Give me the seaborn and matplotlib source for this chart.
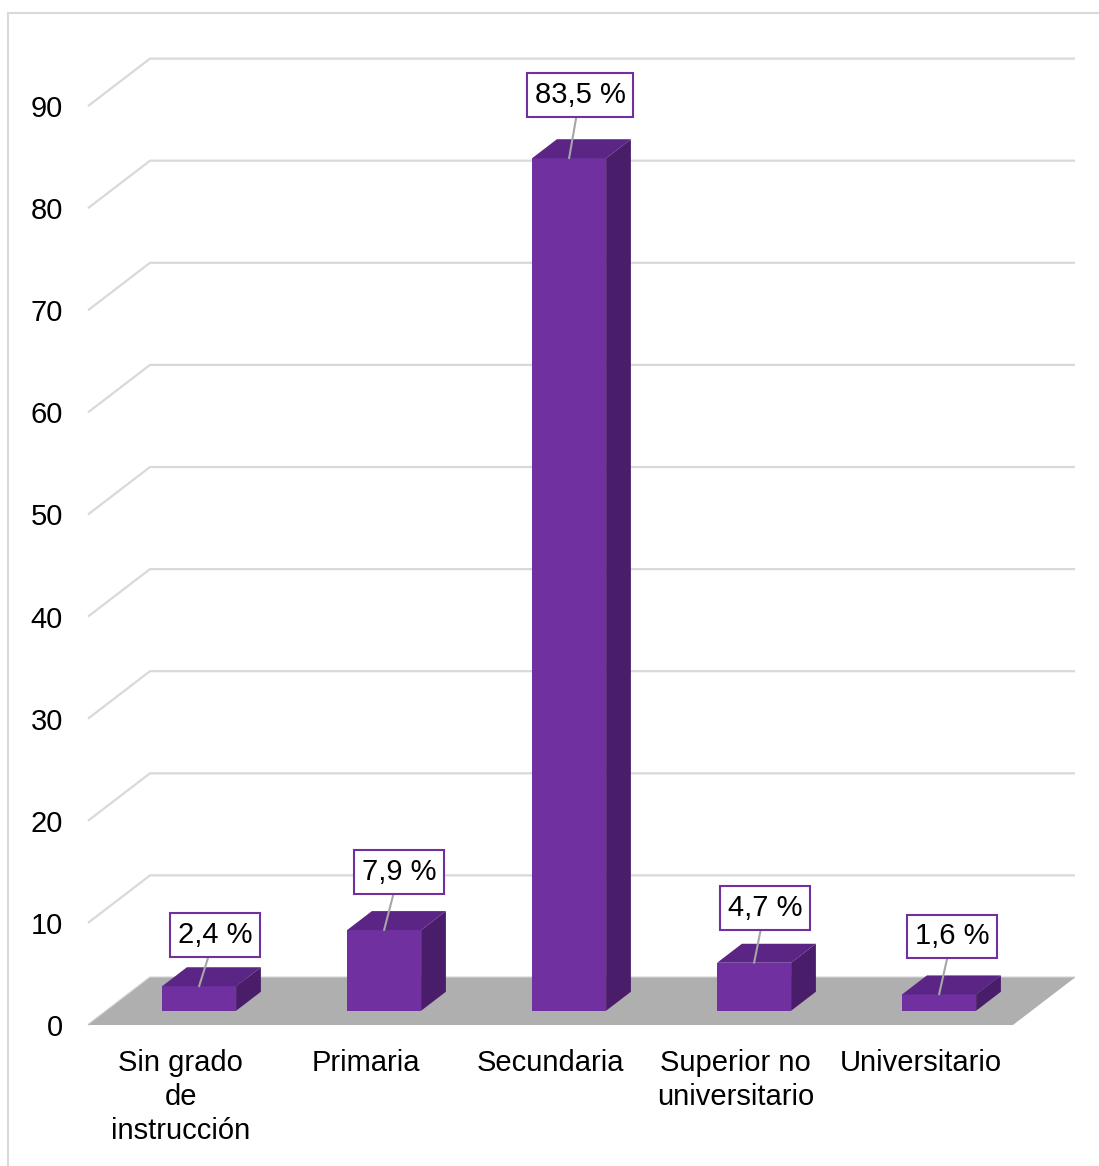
import matplotlib
matplotlib.use("Agg")
import matplotlib.pyplot as plt
import seaborn as sns
import pandas as pd
from matplotlib.patches import Polygon, Rectangle

# Nivel de instrucción (%)
categorias = ["Sin grado\nde\ninstrucción", "Primaria", "Secundaria",
              "Superior no\nuniversitario", "Universitario"]
porcentajes = [2.4, 7.9, 83.5, 4.7, 1.6]
etiquetas = ["2,4 %", "7,9 %", "83,5 %", "4,7 %", "1,6 %"]
ticks_y = [0, 10, 20, 30, 40, 50, 60, 70, 80, 90]

# desplazamiento (px) de cada caja de etiqueta respecto a la cara superior de la barra
desplaz_etiquetas = [(16, 51), (15, 58), (11, 63), (11, 55), (13, 58)]

sns.set_theme(style="white")
plt.rcParams["font.family"] = ["Liberation Sans", "DejaVu Sans"]

W, H = 1099, 1166
fig = plt.figure(figsize=(W / 100, H / 100), dpi=100)
fig.patch.set_facecolor("white")

# plano frontal de la gráfica en píxeles
left_px, right_px = 88, 1075
bottom_px, top_px = 1025, 45
ax = fig.add_axes([left_px / W, 1 - bottom_px / H,
                   (right_px - left_px) / W, (bottom_px - top_px) / H])

px_y = 10.21      # píxeles por unidad de porcentaje
px_x = 185        # píxeles por categoría
xmin = -0.5
xmax = xmin + (right_px - left_px) / px_x
ymax = (bottom_px - top_px) / px_y

# vector de profundidad (pared del fondo) en unidades de datos
DX = 62 / px_x
DY = 47.5 / px_y
f_front = 0.30    # posición de la cara frontal de las barras en la profundidad
f_depth = 0.40    # profundidad de las barras

frente = "#7030a0"
techo = "#5a2584"
lateral = "#4a1d6a"

df = pd.DataFrame({"categoria": categorias, "porcentaje": porcentajes})
sns.barplot(data=df, x="categoria", y="porcentaje", color=frente, width=0.4,
            saturation=1, edgecolor="none", linewidth=0, ax=ax, zorder=4)

barras = list(ax.patches)

# líneas de cuadrícula: diagonal en la pared izquierda y horizontal al fondo
for v in ticks_y:
    ax.plot([xmin, xmin + DX, xmax], [v, v + DY, v + DY],
            color="#d9d9d9", lw=1.6, zorder=1, clip_on=False,
            solid_capstyle="butt")

# piso
piso = Polygon([(xmin, 0), (4.5, 0), (4.5 + DX, DY), (xmin + DX, DY)],
               closed=True, facecolor="#afafaf", edgecolor="none", zorder=2)
ax.add_patch(piso)

# caras superior y lateral de cada barra
bdx, bdy = f_depth * DX, f_depth * DY
for p in barras:
    p.set_x(p.get_x() + f_front * DX)
    p.set_y(p.get_y() + f_front * DY)
    x0 = p.get_x()
    x1 = x0 + p.get_width()
    y0 = p.get_y()
    y1 = y0 + p.get_height()
    ax.add_patch(Polygon([(x0, y1), (x1, y1), (x1 + bdx, y1 + bdy), (x0 + bdx, y1 + bdy)],
                         closed=True, facecolor=techo, edgecolor="none", zorder=4))
    ax.add_patch(Polygon([(x1, y0), (x1 + bdx, y0 + bdy), (x1 + bdx, y1 + bdy), (x1, y1)],
                         closed=True, facecolor=lateral, edgecolor="none", zorder=4))

# etiquetas de datos con línea guía
for p, lab, (ox, oy) in zip(barras, etiquetas, desplaz_etiquetas):
    ax_x = p.get_x() + p.get_width() / 2
    ax_y = p.get_y() + p.get_height()
    ax.annotate(lab, xy=(ax_x, ax_y), xytext=(ox, oy), textcoords="offset pixels",
                ha="center", va="center", fontsize=21, color="black",
                bbox=dict(boxstyle="square,pad=0.27", fc="white", ec=frente, lw=1.5),
                arrowprops=dict(arrowstyle="-", color="#a6a6a6", lw=1.5,
                                shrinkA=0, shrinkB=0),
                zorder=6)

ax.set_xlim(xmin, xmax)
ax.set_ylim(0, ymax)
ax.set_xticks(range(len(categorias)))
ax.set_xticklabels(categorias, fontsize=21, linespacing=1.28, color="black")
ax.set_yticks(ticks_y)
ax.set_yticklabels([str(t) for t in ticks_y], fontsize=21, color="black")
ax.tick_params(axis="y", length=0, pad=18)
ax.tick_params(axis="x", length=0, pad=17)
ax.set_xlabel("")
ax.set_ylabel("")
for s in ax.spines.values():
    s.set_visible(False)
ax.set_facecolor("none")
ax.grid(False)

# marco exterior del gráfico
fig.add_artist(Rectangle((8 / W, -0.05), 1.2, (H - 13) / H + 0.05,
                         transform=fig.transFigure, fill=False,
                         edgecolor="#d9d9d9", lw=1.5))

fig.savefig("out.png", dpi=100)
